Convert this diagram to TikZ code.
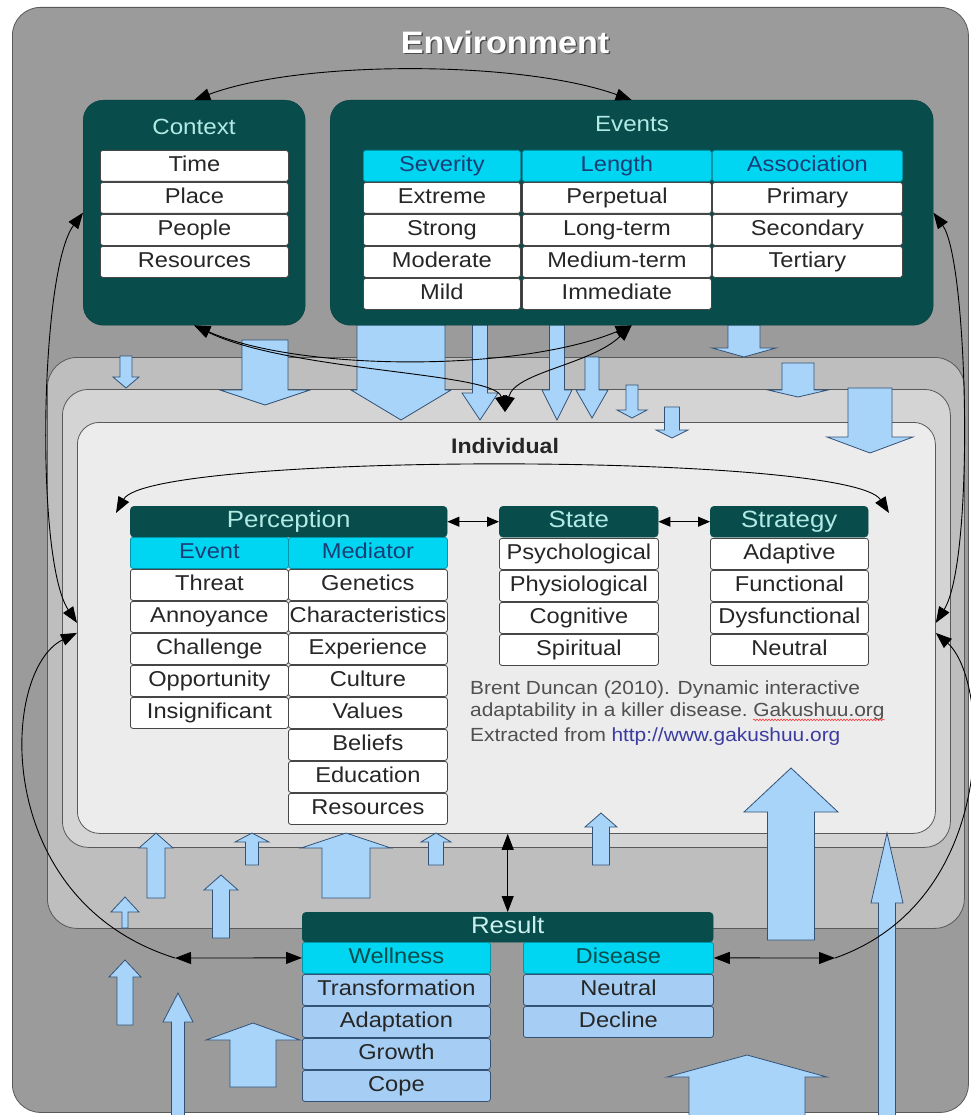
\documentclass[tikz,border=0pt]{standalone}
\usepackage{fontspec}
\setmainfont{Liberation Sans}[FakeStretch=1.1]
\usetikzlibrary{arrows.meta,calc,decorations.pathmorphing}
\definecolor{envgray}{RGB}{155,155,155}
\definecolor{laytwo}{RGB}{190,190,190}
\definecolor{laythree}{RGB}{212,212,212}
\definecolor{indbg}{RGB}{236,236,236}
\definecolor{darkteal}{RGB}{8,76,76}
\definecolor{hdtext}{RGB}{178,234,228}
\definecolor{cyanc}{RGB}{0,214,242}
\definecolor{cyantext}{RGB}{25,62,118}
\definecolor{lblue}{RGB}{166,206,244}
\definecolor{arrfill}{RGB}{168,212,250}
\definecolor{arredge}{RGB}{52,82,118}
\definecolor{celledge}{RGB}{70,70,70}
\definecolor{citegray}{RGB}{80,80,80}
\definecolor{urlblue}{RGB}{60,60,160}
\newcommand\BArrow[6]{\draw[barrow] ({#1-#2},#4) -- ({#1-#2},#5) -- ({#1-#3},#5) -- (#1,#6) -- ({#1+#3},#5) -- ({#1+#2},#5) -- ({#1+#2},#4) -- cycle;}
\begin{document}
\begin{tikzpicture}[x=1pt,y=-1pt,
  layer/.style={draw=black!65, line width=0.8pt, anchor=north west, inner sep=0pt},
  darkbox/.style={fill=darkteal, draw=darkteal!80!black, rounded corners=20pt, anchor=north west, inner sep=0pt},
  ttl/.style={text=hdtext, font=\fontsize{22}{22}\selectfont},
  cell/.style={draw=celledge, line width=0.8pt, fill=white, rounded corners=2.5pt, minimum height=31pt, inner sep=0pt, text height=15.5pt, text depth=4.5pt, anchor=north west, text=black!85, font=\fontsize{21.5}{22}\selectfont},
  sub/.style={cell, fill=cyanc, draw=cyanc!70!black, text=cyantext},
  rsub/.style={cell, fill=cyanc, draw=cyanc!70!black, text=darkteal},
  rcell/.style={cell, fill=lblue, draw=arredge},
  hdr/.style={fill=darkteal, draw=darkteal, rounded corners=4pt, minimum height=31pt, anchor=north west, inner sep=0pt, text height=17pt, text depth=5pt, text=hdtext, font=\fontsize{23.5}{24}\selectfont},
  barrow/.style={fill=arrfill, draw=arredge, line width=0.8pt, line join=miter},
  dbl/.style={draw=black, line width=0.9pt, {Triangle[length=16pt,width=12pt]}-{Triangle[length=16pt,width=12pt]}},
  sgl/.style={draw=black, line width=0.9pt, -{Triangle[length=16pt,width=12pt]}},
  smalldbl/.style={draw=black, line width=0.9pt, {Triangle[length=12pt,width=10pt]}-{Triangle[length=12pt,width=10pt]}},
  cite/.style={inner sep=0pt, text=citegray, font=\fontsize{19}{22}\selectfont}]
\useasboundingbox (0,0) rectangle (970,1115);
\fill[white] (0,0) rectangle (970,1115);
% layers
\node[layer, fill=envgray, rounded corners=28pt, minimum width=956pt, minimum height=1105pt] (env) at (12,7) {};
\node[layer, fill=laytwo, rounded corners=30pt, minimum width=917pt, minimum height=571pt] (ltwo) at (47,357) {};
\node[layer, fill=laythree, rounded corners=26pt, minimum width=888pt, minimum height=458pt] (lthree) at (62,389) {};
\node[layer, fill=indbg, rounded corners=22pt, minimum width=858pt, minimum height=411pt] (ind) at (77,422) {};
% title
\node[font=\fontsize{31}{31}\selectfont\bfseries, text=black!70] (envS) at (506.5,43.5) {Environment};
\node[font=\fontsize{31}{31}\selectfont\bfseries, text=white] (envT) at (505,42) {Environment};
% block arrows, down
\BArrow{126}{6}{13}{356}{377}{388}
\BArrow{265}{23}{45}{340}{390}{405}
\BArrow{401}{44}{50}{325}{390}{420}
\BArrow{480}{7.5}{18}{325}{393}{420}
\BArrow{557}{7.5}{15}{325}{390}{420}
\BArrow{592}{7}{16}{357}{390}{418}
\BArrow{632}{6}{15}{385}{410}{418}
\BArrow{672}{7.5}{16}{407}{430}{438}
\BArrow{744}{16}{32}{325}{348}{357}
\BArrow{798}{16}{30}{363}{390}{397}
\BArrow{870}{22}{43}{388}{437}{453}
% block arrows, up
\BArrow{156}{9}{17}{898}{848}{833}
\BArrow{252}{6.5}{17}{865}{842}{833}
\BArrow{346}{24}{45}{898}{848}{833}
\BArrow{436}{7.5}{15}{865}{842}{833}
\BArrow{221}{8.5}{17}{938}{890}{875}
\BArrow{125}{3}{14}{928}{912}{897}
\BArrow{125}{8}{16}{1025}{977}{960}
\BArrow{178}{6.5}{15}{1120}{1022}{993}
\BArrow{253}{23}{47}{1087}{1040}{1023}
\BArrow{601}{8.5}{16}{865}{827}{813}
\BArrow{791}{23.5}{47}{940}{812}{768}
\BArrow{887}{8.5}{16}{1120}{903}{833}
\BArrow{747}{58}{80}{1120}{1077}{1055}
% Context
\node[darkbox, minimum width=222pt, minimum height=225pt] (ctx) at (83,100) {};
\node[ttl] (ctxT) at (194,127) {Context};
\foreach \t [count=\i from 0] in {Time,Place,People,Resources}
  \node[cell, minimum width=188pt] (cx\i) at (100,{150+32*\i}) {\t};
% Events
\node[darkbox, minimum width=603pt, minimum height=225pt] (ev) at (330,100) {};
\node[ttl] (evT) at (632,124) {Events};
\node[sub, minimum width=157pt] (sev) at (363,150) {Severity};
\node[sub, minimum width=189pt] (len) at (522,150) {Length};
\node[sub, minimum width=190pt] (asc) at (712,150) {Association};
\foreach \t [count=\i from 0] in {Extreme,Strong,Moderate,Mild}
  \node[cell, minimum width=157pt] (sv\i) at (363,{182+32*\i}) {\t};
\foreach \t [count=\i from 0] in {Perpetual,Long-term,Medium-term,Immediate}
  \node[cell, minimum width=189pt] (ln\i) at (522,{182+32*\i}) {\t};
\foreach \t [count=\i from 0] in {Primary,Secondary,Tertiary}
  \node[cell, minimum width=190pt] (as\i) at (712,{182+32*\i}) {\t};
% Individual
\node[font=\fontsize{21}{21}\selectfont\bfseries, text=black!85] (indT) at (505,446) {Individual};
\node[hdr, minimum width=317pt] (perc) at (130,506) {Perception};
\node[sub, minimum width=158pt] (pev) at (130,537) {Event};
\node[sub, minimum width=159pt] (pmd) at (288,537) {Mediator};
\foreach \t [count=\i from 0] in {Threat,Annoyance,Challenge,Opportunity,Insignificant}
  \node[cell, minimum width=158pt] (pe\i) at (130,{569+32*\i}) {\t};
\foreach \t [count=\i from 0] in {Genetics,Characteristics,Experience,Culture,Values,Beliefs,Education,Resources}
  \node[cell, minimum width=159pt] (pm\i) at (288,{569+32*\i}) {\t};
\node[hdr, minimum width=159pt] (state) at (499,506) {State};
\foreach \t [count=\i from 0] in {Psychological,Physiological,Cognitive,Spiritual}
  \node[cell, minimum width=159pt] (st\i) at (499,{538+32*\i}) {\t};
\node[hdr, minimum width=158pt] (strat) at (710,506) {Strategy};
\foreach \t [count=\i from 0] in {Adaptive,Functional,Dysfunctional,Neutral}
  \node[cell, minimum width=158pt] (sg\i) at (710,{538+32*\i}) {\t};
% citation
\node[cite, anchor=west] (cA) at (470,690) {Brent Duncan (2010). Dynamic interactive};
\node[cite, anchor=west] (cB) at (470,712) {adaptability in a killer disease.};
\node[cite, anchor=base west, xshift=5pt] (cBg) at (cB.base east) {Gakushuu.org};
\node[cite, anchor=west] (cC) at (470,735) {Extracted from};
\node[cite, anchor=base west, xshift=5pt, text=urlblue] (cCu) at (cC.base east) {http://www.gakushuu.org};
\draw[red!75, line width=0.6pt, decorate, decoration={snake, amplitude=0.8pt, segment length=3pt}] ([yshift=-3pt]cBg.base west) -- ([yshift=-3pt]cBg.base east);
% Result
\node[hdr, minimum width=411pt, minimum height=30pt, text=hdtext!70!white] (res) at (302,912) {Result};
\node[rsub, minimum width=188pt] (wel) at (302,942) {Wellness};
\node[rsub, minimum width=190pt] (dis) at (523,942) {Disease};
\foreach \t [count=\i from 0] in {Transformation,Adaptation,Growth,Cope}
  \node[rcell, minimum width=188pt] (wr\i) at (302,{974+32*\i}) {\t};
\foreach \t [count=\i from 0] in {Neutral,Decline}
  \node[rcell, minimum width=190pt] (dr\i) at (523,{974+32*\i}) {\t};
% connectors
\coordinate (indTop) at (505,412);
\coordinate (wl) at (175,958);
\coordinate (drt) at (835,958);
\coordinate (pl) at (116,513);
\coordinate (sr) at (889,513);
\draw[dbl] (ctx.north) .. controls (300,60) and (520,60) .. (ev.north);
\draw[dbl] (ctx.south) .. controls (300,372) and (520,372) .. (ev.south);
\draw[dbl] (ctx.south) .. controls (290,372) and (495,372) .. (indTop);
\draw[dbl] (ev.south) .. controls (590,365) and (515,372) .. (indTop);
\draw[dbl] (ctx.west) .. controls (40,270) and (35,560) .. ($(ind.west)+(0,-5)$);
\draw[sgl] (wl) .. controls (-10,900) and (0,670) .. ($(ind.west)+(0,5)$);
\draw[dbl] (wl) -- (wel.west);
\draw[dbl] (dis.east) -- (drt);
\draw[sgl] (drt) .. controls (1000,900) and (990,680) .. ($(ind.east)+(0,5)$);
\draw[dbl] (ev.east) .. controls (968,260) and (975,560) .. ($(ind.east)+(0,-5)$);
\draw[dbl] (res.north) -- (res.north |- ind.south);
\draw[smalldbl] (perc.east) -- (state.west);
\draw[smalldbl] (state.east) -- (strat.west);
\draw[dbl] (pl) .. controls (150,452) and (850,452) .. (sr);
\end{tikzpicture}
\end{document}
